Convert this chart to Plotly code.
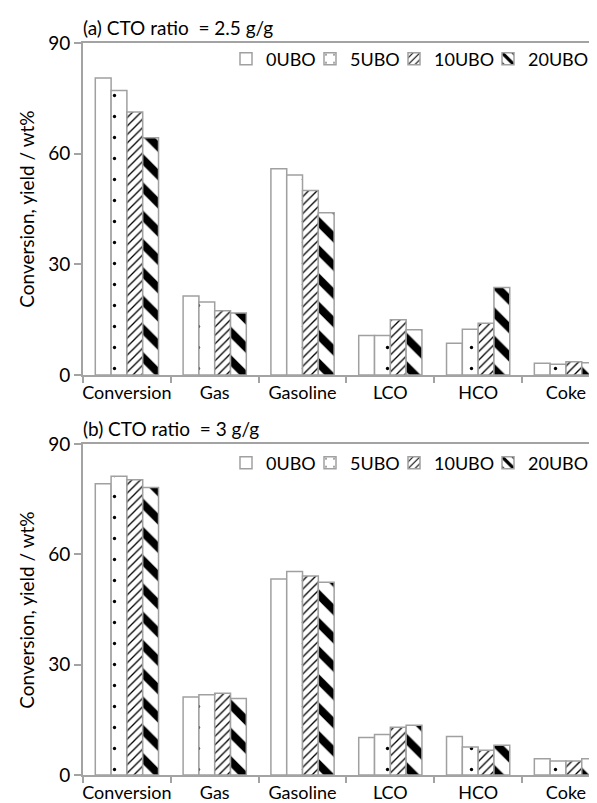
import plotly.graph_objects as go

categories = ["Conversion", "Gas", "Gasoline", "LCO", "HCO", "Coke"]
series_names = ["0UBO", "5UBO", "10UBO", "20UBO"]

# (a) CTO ratio = 2.5 g/g
a_0ubo = [80.5, 21.4, 55.9, 10.7, 8.6, 3.2]
a_5ubo = [77.1, 19.8, 54.2, 10.7, 12.4, 2.9]
a_10ubo = [71.3, 17.4, 50.0, 15.0, 14.0, 3.6]
a_20ubo = [64.3, 16.8, 44.0, 12.3, 23.7, 3.3]

# (b) CTO ratio = 3 g/g
b_0ubo = [79.2, 21.2, 53.3, 10.2, 10.5, 4.4]
b_5ubo = [81.2, 21.8, 55.3, 11.0, 7.6, 3.8]
b_10ubo = [80.3, 22.2, 54.1, 13.0, 6.7, 3.8]
b_20ubo = [78.2, 20.8, 52.4, 13.5, 8.1, 4.4]

y_ticks = [0, 30, 60, 90]
panel_titles = ["(a) CTO ratio  = 2.5 g/g", "(b) CTO ratio  = 3 g/g"]
y_title = "Conversion, yield / wt%"

FONT = "Lato"
W, H = 597, 803
L = 75
GRAY = "#a3a3a3"
OUTLINE = "#a0a0a0"

patterns = [
    dict(shape="", fgcolor="black", bgcolor="white"),
    dict(shape=".", size=21, solidity=0.02, fgcolor="black", bgcolor="white"),
    dict(shape="/", size=6, solidity=0.22, fgcolor="black", bgcolor="white"),
    dict(shape="\\", size=20, solidity=0.4, fgcolor="black", bgcolor="white"),
]
legend_widths = [39, 39, 49, 72]

fig = go.Figure()

panels = [
    ([a_0ubo, a_5ubo, a_10ubo, a_20ubo], "x", "y", "legend"),
    ([b_0ubo, b_5ubo, b_10ubo, b_20ubo], "x2", "y2", "legend2"),
]
for vals, xa, ya, lg in panels:
    for name, v, pat, lw in zip(series_names, vals, patterns, legend_widths):
        fig.add_trace(go.Bar(
            x=categories, y=v, name=name, xaxis=xa, yaxis=ya, legend=lg,
            legendwidth=lw,
            marker=dict(color="white", line=dict(color=OUTLINE, width=1.5),
                        pattern=dict(fillmode="replace", **pat)),
        ))

def py(p):
    return 1 - p / H

def px(p):
    return (p - L) / (W - L)

top_dom = [py(367), py(35)]
bot_dom = [py(767), py(436)]

xcommon = dict(
    type="category", range=[-0.5, 5.365], showline=True, linecolor=GRAY, linewidth=2,
    mirror=True, ticks="outside", tickson="boundaries", ticklen=6, tickcolor=GRAY,
    tickwidth=1.5, showgrid=False, tickangle=0,
    tickfont=dict(family=FONT, size=18, color="black"),
    domain=[0, 1], fixedrange=True, automargin=False,
)
ycommon = dict(
    range=[0, 90], tickvals=y_ticks, showline=True, linecolor=GRAY, linewidth=2,
    ticks="outside", ticklen=7, tickcolor=GRAY, tickwidth=1.5, showgrid=False,
    zeroline=False, tickfont=dict(family=FONT, size=19, color="black"), fixedrange=True,
    automargin=False,
)

legend_common = dict(
    orientation="h", xanchor="left", x=px(220), yanchor="middle",
    font=dict(family=FONT, size=18), bgcolor="rgba(0,0,0,0)",
    traceorder="normal", itemwidth=30, entrywidthmode="pixels",
)

fig.update_layout(
    width=W, height=H,
    margin=dict(l=L, r=0, t=0, b=0),
    paper_bgcolor="white", plot_bgcolor="white",
    barmode="group", bargap=0.28, bargroupgap=0,
    font=dict(family=FONT, size=19, color="black"),
    xaxis=dict(anchor="y", **xcommon),
    yaxis=dict(anchor="x", domain=top_dom, **ycommon),
    xaxis2=dict(anchor="y2", **xcommon),
    yaxis2=dict(anchor="x2", domain=bot_dom, **ycommon),
    legend=dict(y=py(51), **legend_common),
    legend2=dict(y=py(455), **legend_common),
    showlegend=True,
)

annotations = [
    dict(text=panel_titles[0], xref="paper", yref="paper", x=px(73), y=py(20),
         xanchor="left", yanchor="middle", showarrow=False, font=dict(family=FONT, size=19)),
    dict(text=panel_titles[1], xref="paper", yref="paper", x=px(73), y=py(420),
         xanchor="left", yanchor="middle", showarrow=False, font=dict(family=FONT, size=19)),
    dict(text=y_title, xref="paper", yref="paper", x=px(17), y=py(201),
         xanchor="center", yanchor="middle", textangle=-90, showarrow=False,
         font=dict(family=FONT, size=19)),
    dict(text=y_title, xref="paper", yref="paper", x=px(17), y=py(602),
         xanchor="center", yanchor="middle", textangle=-90, showarrow=False,
         font=dict(family=FONT, size=19)),
]
fig.update_layout(annotations=annotations)

fig.write_html("out.html", config=dict(displayModeBar=False))
